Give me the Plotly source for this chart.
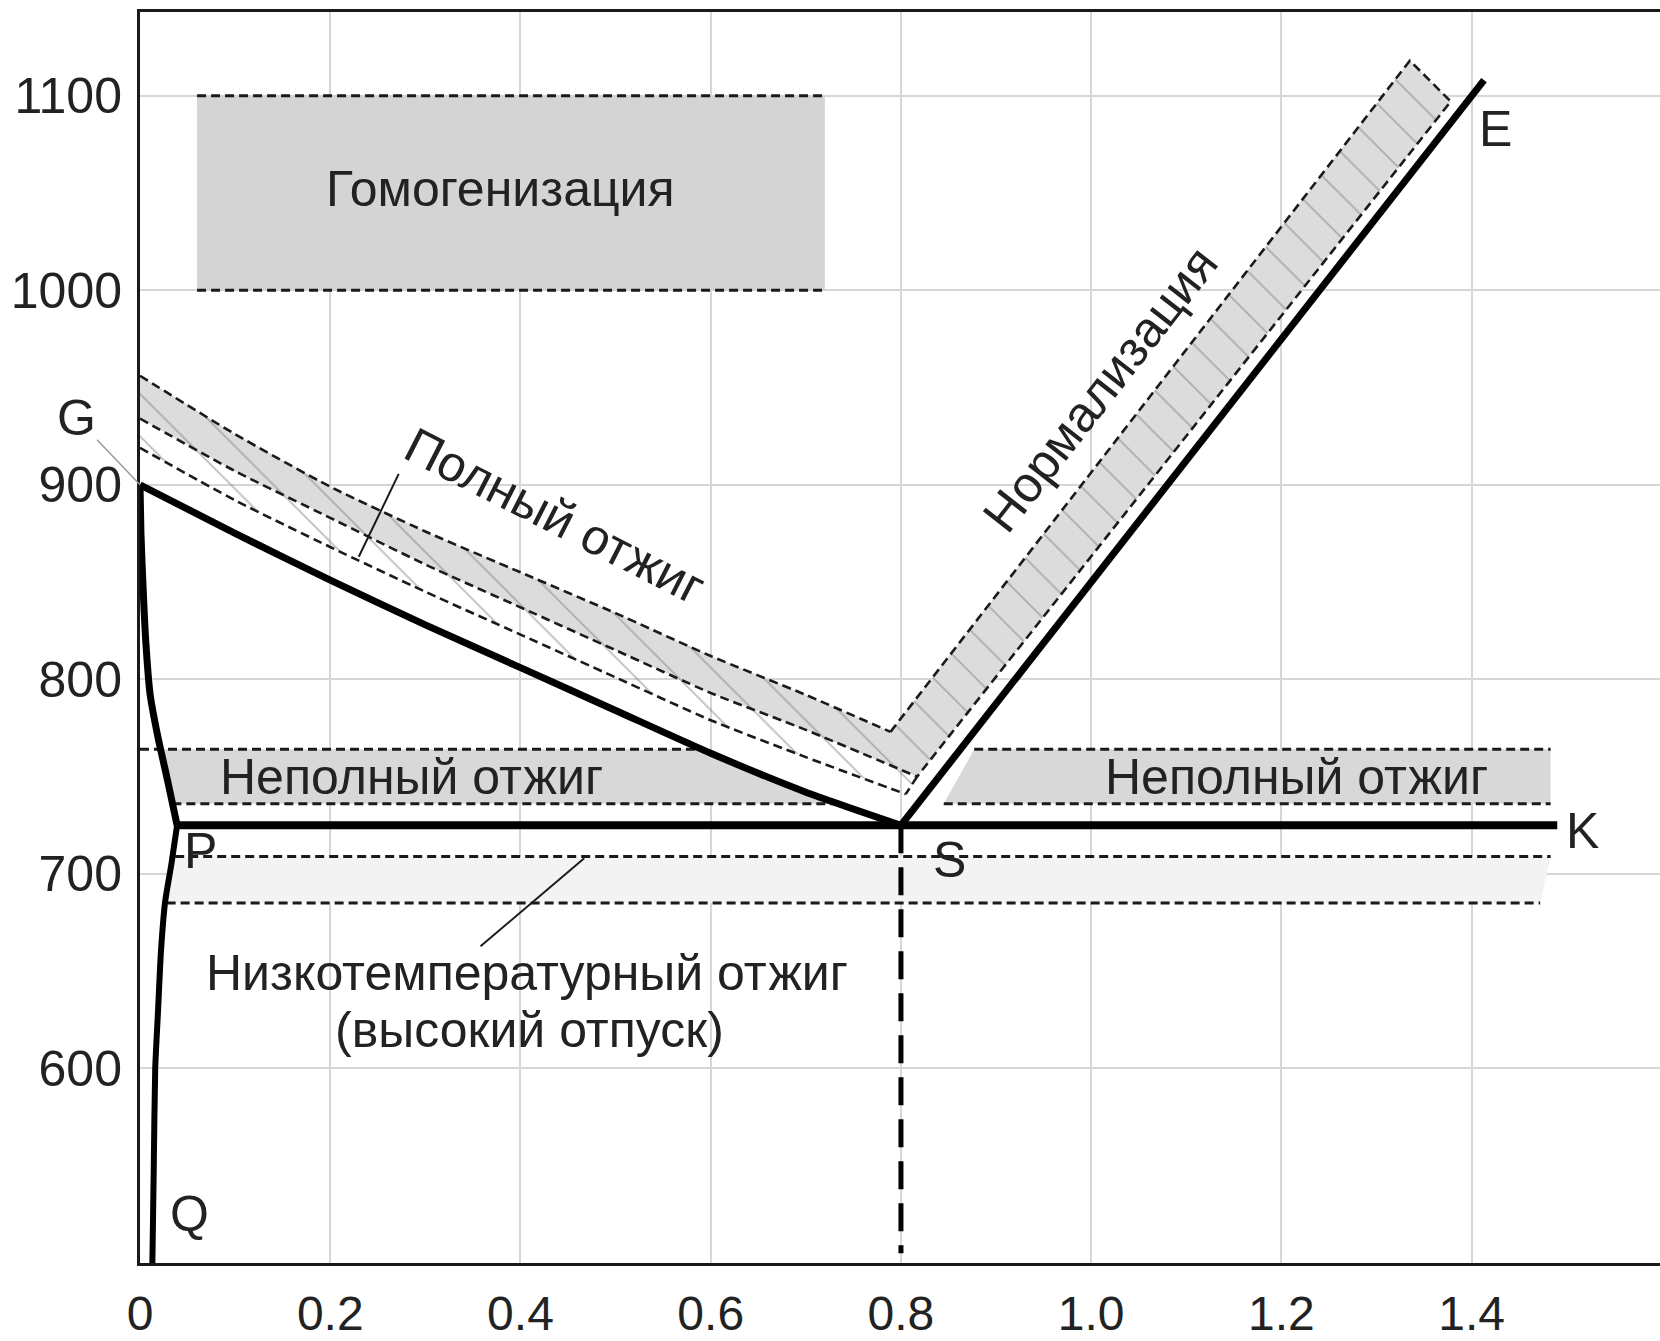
import plotly.graph_objects as go

# ---------------- data ----------------
# Phase lines
gs_x = [0, 0.1, 0.2, 0.3, 0.4, 0.5, 0.6, 0.7, 0.8]
gs_y = [900, 875, 851, 828, 806, 784, 762, 742, 725]
gp_x = [0, 0.001, 0.003, 0.006, 0.0107, 0.019, 0.029, 0.039]
gp_y = [900, 875, 850, 820, 792, 770, 748, 725]
pq_x = [0.039, 0.033, 0.0265, 0.022, 0.019, 0.016, 0.0145, 0.013]
pq_y = [725, 705, 686, 660, 630, 600, 550, 500]
psk_x = [0.039, 0.80, 1.49]
psk_y = [725, 725, 725]
se_x = [0.80, 1.413]
se_y = [725, 1108]
s_vert_x = [0.80, 0.80]
s_vert_y = [725, 505]

# Full annealing band lines
u1_x = [0, 0.1, 0.2, 0.3, 0.4, 0.5, 0.6, 0.7, 0.789]
u1_y = [956, 926, 899, 876, 855, 834, 812, 792, 773]
u2_x = [0, 0.1, 0.2, 0.3, 0.4, 0.5, 0.6, 0.7, 0.817]
u2_y = [934, 907, 883, 859, 837, 815, 793, 774, 750]
u3_x = [0, 0.1, 0.2, 0.3, 0.4, 0.5, 0.6, 0.7, 0.805]
u3_y = [919, 892, 868, 845, 823, 801, 779, 760, 741]
# Normalization band corners (outer top, cap)
norm_x = [1.335, 1.378]
norm_y = [1118, 1097]

# Homogenization
hom_x = [0.06, 0.72]
hom_y = [1000, 1100]
# Incomplete annealing
inc_y = [736, 764]
inc_left_x = [0.034, 0.0225, 0.586, 0.735]     # GP@736, GP@764, GS@764, GS@736
inc_right_x = [0.845, 0.877, 1.483]            # start @736, start @764, end
# Low-temperature annealing
low_y = [685, 709]
low_x = [0.028, 0.037, 1.483, 1.472]          # start bottom, start top, end top, end bottom

# Leaders
lead_full_x = [0.272, 0.230]
lead_full_y = [905.6, 863]
lead_low_x = [0.358, 0.467]
lead_low_y = [662.8, 708]

x_ticks = [0, 0.2, 0.4, 0.6, 0.8, 1.0, 1.2, 1.4]
x_tick_text = ["0", "0.2", "0.4", "0.6", "0.8", "1.0", "1.2", "1.4"]
y_ticks = [600, 700, 800, 900, 1000, 1100]

FONT = "Liberation Sans, Arial, sans-serif"
TXT = "#222222"
DASH = "9px,5px"
GRAY = "#d8d8d8"
FS = 50

fig = go.Figure()

def add(x, y, **kw):
    fig.add_trace(go.Scatter(x=x, y=y, mode="lines", hoverinfo="skip", **kw))

hatch = dict(shape="\\", size=30, solidity=0.06, fgcolor="#7c7c7c")

# ---------- fills ----------
add([hom_x[0], hom_x[1], hom_x[1], hom_x[0]], [hom_y[0], hom_y[0], hom_y[1], hom_y[1]],
    fill="toself", fillcolor="#d4d4d4", line=dict(width=0))
add([inc_left_x[0], inc_left_x[1], inc_left_x[2], inc_left_x[3]],
    [inc_y[0], inc_y[1], inc_y[1], inc_y[0]],
    fill="toself", fillcolor=GRAY, line=dict(width=0))
add([inc_right_x[0], inc_right_x[1], inc_right_x[2], inc_right_x[2]],
    [inc_y[0], inc_y[1], inc_y[1], inc_y[0]],
    fill="toself", fillcolor=GRAY, line=dict(width=0))
add([low_x[0], low_x[1], low_x[2], low_x[3]], [low_y[0], low_y[1], low_y[1], low_y[0]],
    fill="toself", fillcolor="#f3f3f3", line=dict(width=0))

v_x = u1_x + norm_x + u2_x[::-1]
v_y = u1_y + norm_y + u2_y[::-1]
add(v_x, v_y, fill="toself", fillcolor="#dcdcdc", line=dict(width=0),
    fillpattern=dict(bgcolor="#dcdcdc", **hatch))
h_x = u2_x + u3_x[::-1]
h_y = u2_y + u3_y[::-1]
add(h_x, h_y, fill="toself", fillcolor="rgba(255,255,255,0)", line=dict(width=0),
    fillpattern=dict(bgcolor="rgba(255,255,255,0)", **hatch))

# ---------- dashed outlines ----------
dl = dict(color="#1a1a1a", width=3, dash=DASH)
for yy in hom_y:
    add(hom_x, [yy, yy], line=dl)
add([0, inc_left_x[2]], [inc_y[1], inc_y[1]], line=dl)
add([inc_left_x[0], inc_left_x[3]], [inc_y[0], inc_y[0]], line=dl)
add([inc_right_x[1], inc_right_x[2]], [inc_y[1], inc_y[1]], line=dl)
add([inc_right_x[0], inc_right_x[2]], [inc_y[0], inc_y[0]], line=dl)
add([low_x[1], low_x[2]], [low_y[1], low_y[1]], line=dl)
add([low_x[0], low_x[3]], [low_y[0], low_y[0]], line=dl)
dl2 = dict(color="#1a1a1a", width=2.6, dash=DASH, shape="spline", smoothing=0.6)
dl2l = dict(color="#1a1a1a", width=2.6, dash=DASH)
add(u1_x, u1_y, line=dl2)
add(u2_x, u2_y, line=dl2)
add(u3_x, u3_y, line=dl2)
add([u1_x[-1]] + norm_x + [u2_x[-1]], [u1_y[-1]] + norm_y + [u2_y[-1]], line=dl2l)
add([u2_x[-1], u3_x[-1]], [u2_y[-1], u3_y[-1]], line=dl2l)

# ---------- thick phase lines ----------
sp = dict(shape="spline", smoothing=0.6)
add(gs_x, gs_y, line=dict(color="black", width=7, **sp))
add(gp_x, gp_y, line=dict(color="black", width=7, **sp))
add(pq_x, pq_y, line=dict(color="black", width=6, **sp))
add(psk_x, psk_y, line=dict(color="black", width=8))
add(se_x, se_y, line=dict(color="black", width=7))
add(s_vert_x, s_vert_y, line=dict(color="black", width=5, dash="28px,14px"))

# leaders
add(lead_full_x, lead_full_y, line=dict(color="#1a1a1a", width=2))
add(lead_low_x, lead_low_y, line=dict(color="#1a1a1a", width=2))

# ---------- text ----------
def label(x, y, text, size=FS, angle=0):
    fig.add_annotation(x=x, y=y, text=text, showarrow=False, textangle=angle,
                       font=dict(family=FONT, size=size, color=TXT),
                       xanchor="center", yanchor="middle")

label(0.379, 1052, "Гомогенизация")
label(0.436, 884, "Полный отжиг", angle=27)
label(1.010, 949, "Нормализация", angle=-52)
label(0.285, 750, "Неполный отжиг")
label(1.216, 750, "Неполный отжиг")
label(0.407, 649, "Низкотемпературный отжиг")
label(0.410, 620, "(высокий отпуск)")
label(1.425, 1083, "E")
label(1.516, 722, "K")
label(0.851, 707, "S")
label(0.064, 712, "P")
label(0.052, 525, "Q")

fig.add_annotation(x=0, y=900, text="G", showarrow=True, arrowhead=0, arrowwidth=1.5,
                   arrowcolor="#9a9a9a", ax=-64, ay=-67, standoff=0,
                   font=dict(family=FONT, size=FS, color=TXT))

fig.update_layout(
    width=1660, height=1341,
    margin=dict(l=140, r=0, t=12, b=78, autoexpand=False),
    paper_bgcolor="white", plot_bgcolor="white",
    showlegend=False,
    font=dict(family=FONT, color=TXT),
)
fig.update_xaxes(range=[0, 1.598], tickvals=x_ticks, ticktext=x_tick_text,
                 automargin=False,
                 showgrid=True, gridcolor="#d6d6d6", gridwidth=1.5,
                 showline=True, linecolor="#1a1a1a", linewidth=3, mirror=True,
                 zeroline=False, ticks="", ticklabelstandoff=6,
                 tickfont=dict(family=FONT, size=48, color=TXT))
fig.update_yaxes(range=[500, 1143], tickvals=y_ticks,
                 automargin=False,
                 showgrid=True, gridcolor="#d6d6d6", gridwidth=1.5,
                 showline=True, linecolor="#1a1a1a", linewidth=3,
                 zeroline=False, ticks="", ticklabelstandoff=5,
                 tickfont=dict(family=FONT, size=FS, color=TXT))

fig.write_html("out.html")
